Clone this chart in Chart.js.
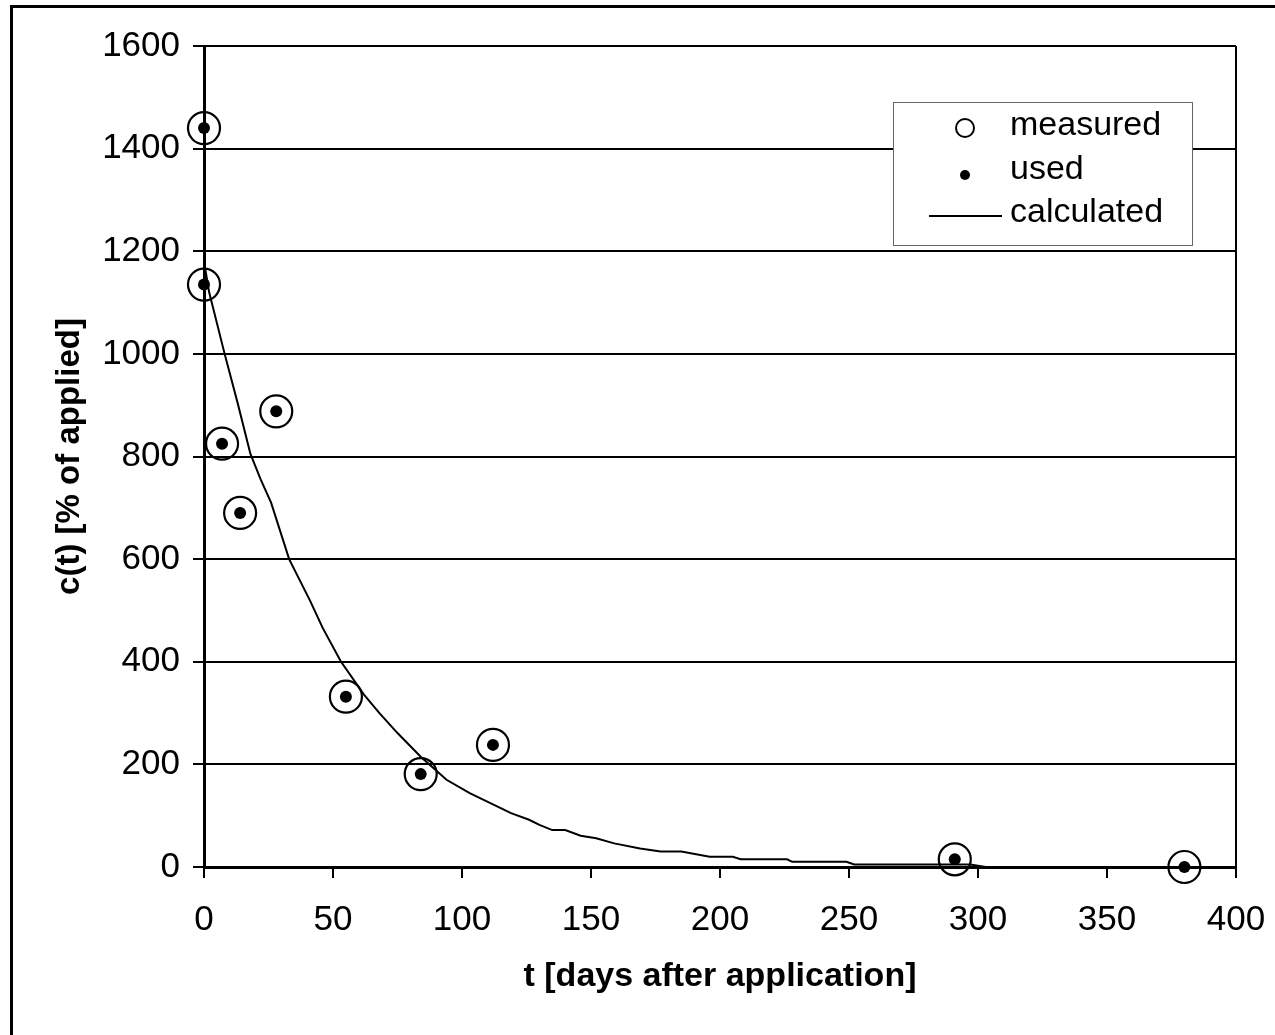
<!DOCTYPE html>
<html>
<head>
<meta charset="utf-8">
<script src="https://cdn.jsdelivr.net/npm/chart.js@4.4.0/dist/chart.umd.min.js"></script>
<style>
  html, body { margin: 0; padding: 0; background: #fff; }
  #wrap { width: 1275px; height: 1035px; position: relative; }
</style>
</head>
<body>
<div id="wrap"><canvas id="chart"></canvas></div>
<script>
// measured concentrations (days after application, % of applied)
const measuredT = [0, 0, 7, 14, 28, 55, 84, 112, 291, 380];
const measuredC = [1440, 1135, 825, 690, 888, 332, 181, 238, 15, 0];

// points used for the fit (all of them here)
const usedT = [0, 0, 7, 14, 28, 55, 84, 112, 291, 380];
const usedC = [1440, 1135, 825, 690, 888, 332, 181, 238, 15, 0];

// calculated curve
const calcT = [0, 2, 8, 13, 18, 22, 26, 33, 41, 46, 53, 62, 68, 75, 84, 94, 103, 119, 126, 130,
  135, 140, 146, 152, 159, 169, 177, 185, 196, 205, 208, 226, 228, 249, 252, 297, 303, 400];
const calcC = [1180, 1120, 1000, 905, 805, 755, 710, 600, 520, 466, 401, 336, 300, 261, 215, 170, 144, 105, 92, 82,
  72, 72, 61, 56, 46, 36, 30, 30, 20, 20, 15, 15, 10, 10, 5, 5, 0, 0];

const xTicks = [0, 50, 100, 150, 200, 250, 300, 350, 400];
const yTicks = [0, 200, 400, 600, 800, 1000, 1200, 1400, 1600];

const seriesNames = ['measured', 'used', 'calculated'];

const FONT = '"Liberation Sans", Arial, sans-serif';

const toXY = (xs, ys) => xs.map((x, i) => ({ x: x, y: ys[i] }));

// frame around the whole chart + right border of the plot area
const framePlugin = {
  id: 'frame',
  beforeDraw(chart) {
    const ctx = chart.ctx;
    ctx.save();
    ctx.fillStyle = '#fff';
    ctx.fillRect(0, 0, chart.width, chart.height);
    ctx.strokeStyle = '#000';
    ctx.lineWidth = 3;
    ctx.strokeRect(11.5, 6.5, chart.width + 20, chart.height + 20);
    ctx.restore();
  },
  beforeDatasetsDraw(chart) {
    const { ctx, chartArea } = chart;
    ctx.save();
    ctx.strokeStyle = '#000';
    ctx.lineWidth = 2;
    ctx.beginPath();
    ctx.moveTo(chartArea.right, chartArea.top);
    ctx.lineTo(chartArea.right, chartArea.bottom);
    ctx.stroke();
    ctx.restore();
  }
};

// legend box inside the plot
const legendPlugin = {
  id: 'boxLegend',
  afterDraw(chart) {
    const ctx = chart.ctx;
    const bx = 893, by = 102, bw = 299, bh = 143;
    ctx.save();
    ctx.fillStyle = '#fff';
    ctx.fillRect(bx, by, bw, bh);
    ctx.strokeStyle = '#666';
    ctx.lineWidth = 1;
    ctx.strokeRect(bx + 0.5, by + 0.5, bw, bh);

    ctx.strokeStyle = '#000';
    ctx.fillStyle = '#000';
    ctx.lineWidth = 2;
    ctx.beginPath();
    ctx.arc(965, 128, 9, 0, Math.PI * 2);
    ctx.stroke();
    ctx.beginPath();
    ctx.arc(965, 175, 5, 0, Math.PI * 2);
    ctx.fill();
    ctx.beginPath();
    ctx.moveTo(929, 216);
    ctx.lineTo(1002, 216);
    ctx.stroke();

    ctx.font = '34px ' + FONT;
    ctx.textBaseline = 'middle';
    ctx.textAlign = 'left';
    ctx.fillText(seriesNames[0], 1010, 126);
    ctx.fillText(seriesNames[1], 1010, 170);
    ctx.fillText(seriesNames[2], 1010, 213);
    ctx.restore();
  }
};

new Chart(document.getElementById('chart'), {
  type: 'scatter',
  data: {
    datasets: [
      {
        label: seriesNames[2],
        data: toXY(calcT, calcC),
        showLine: true,
        borderColor: '#000',
        borderWidth: 2,
        pointRadius: 0,
        tension: 0,
        order: 3
      },
      {
        label: seriesNames[0],
        data: toXY(measuredT, measuredC),
        showLine: false,
        clip: false,
        pointStyle: 'circle',
        pointRadius: 16,
        pointBorderWidth: 2.2,
        pointBorderColor: '#000',
        pointBackgroundColor: 'rgba(0,0,0,0)',
        order: 2
      },
      {
        label: seriesNames[1],
        data: toXY(usedT, usedC),
        showLine: false,
        clip: false,
        pointStyle: 'circle',
        pointRadius: 6,
        pointBorderWidth: 0,
        pointBackgroundColor: '#000',
        order: 1
      }
    ]
  },
  options: {
    responsive: true,
    maintainAspectRatio: false,
    animation: false,
    layout: { padding: { left: 0, top: 46, right: 39, bottom: 0 } },
    plugins: {
      legend: { display: false },
      tooltip: { enabled: false }
    },
    scales: {
      x: {
        type: 'linear',
        min: 0,
        max: 400,
        afterBuildTicks: (s) => { s.ticks = xTicks.map(v => ({ value: v })); },
        afterFit: (s) => { s.height = 168; s.paddingLeft = 0; s.paddingRight = 0; },
        border: { color: '#000', width: 3 },
        grid: { drawOnChartArea: false, drawTicks: true, tickLength: 11, color: '#000', lineWidth: 2 },
        ticks: { color: '#000', padding: 21, font: { family: FONT, size: 35 }, callback: v => String(v) },
        title: {
          display: true,
          text: 't [days after application]',
          color: '#000',
          font: { family: FONT, size: 34, weight: 'bold' },
          padding: { top: 0, bottom: 38 }
        }
      },
      y: {
        min: 0,
        max: 1600,
        afterBuildTicks: (s) => { s.ticks = yTicks.map(v => ({ value: v })); },
        afterFit: (s) => { s.width = 204; s.paddingTop = 0; s.paddingBottom = 0; },
        border: { color: '#000', width: 3 },
        grid: { drawTicks: true, tickLength: 11, color: '#000', lineWidth: 2 },
        ticks: { color: '#000', padding: 13, font: { family: FONT, size: 35 }, callback: v => String(v) },
        title: {
          display: true,
          text: 'c(t) [% of applied]',
          color: '#000',
          font: { family: FONT, size: 33, weight: 'bold' },
          padding: { top: 50, bottom: 0 }
        }
      }
    }
  },
  plugins: [framePlugin, legendPlugin]
});
</script>
</body>
</html>
